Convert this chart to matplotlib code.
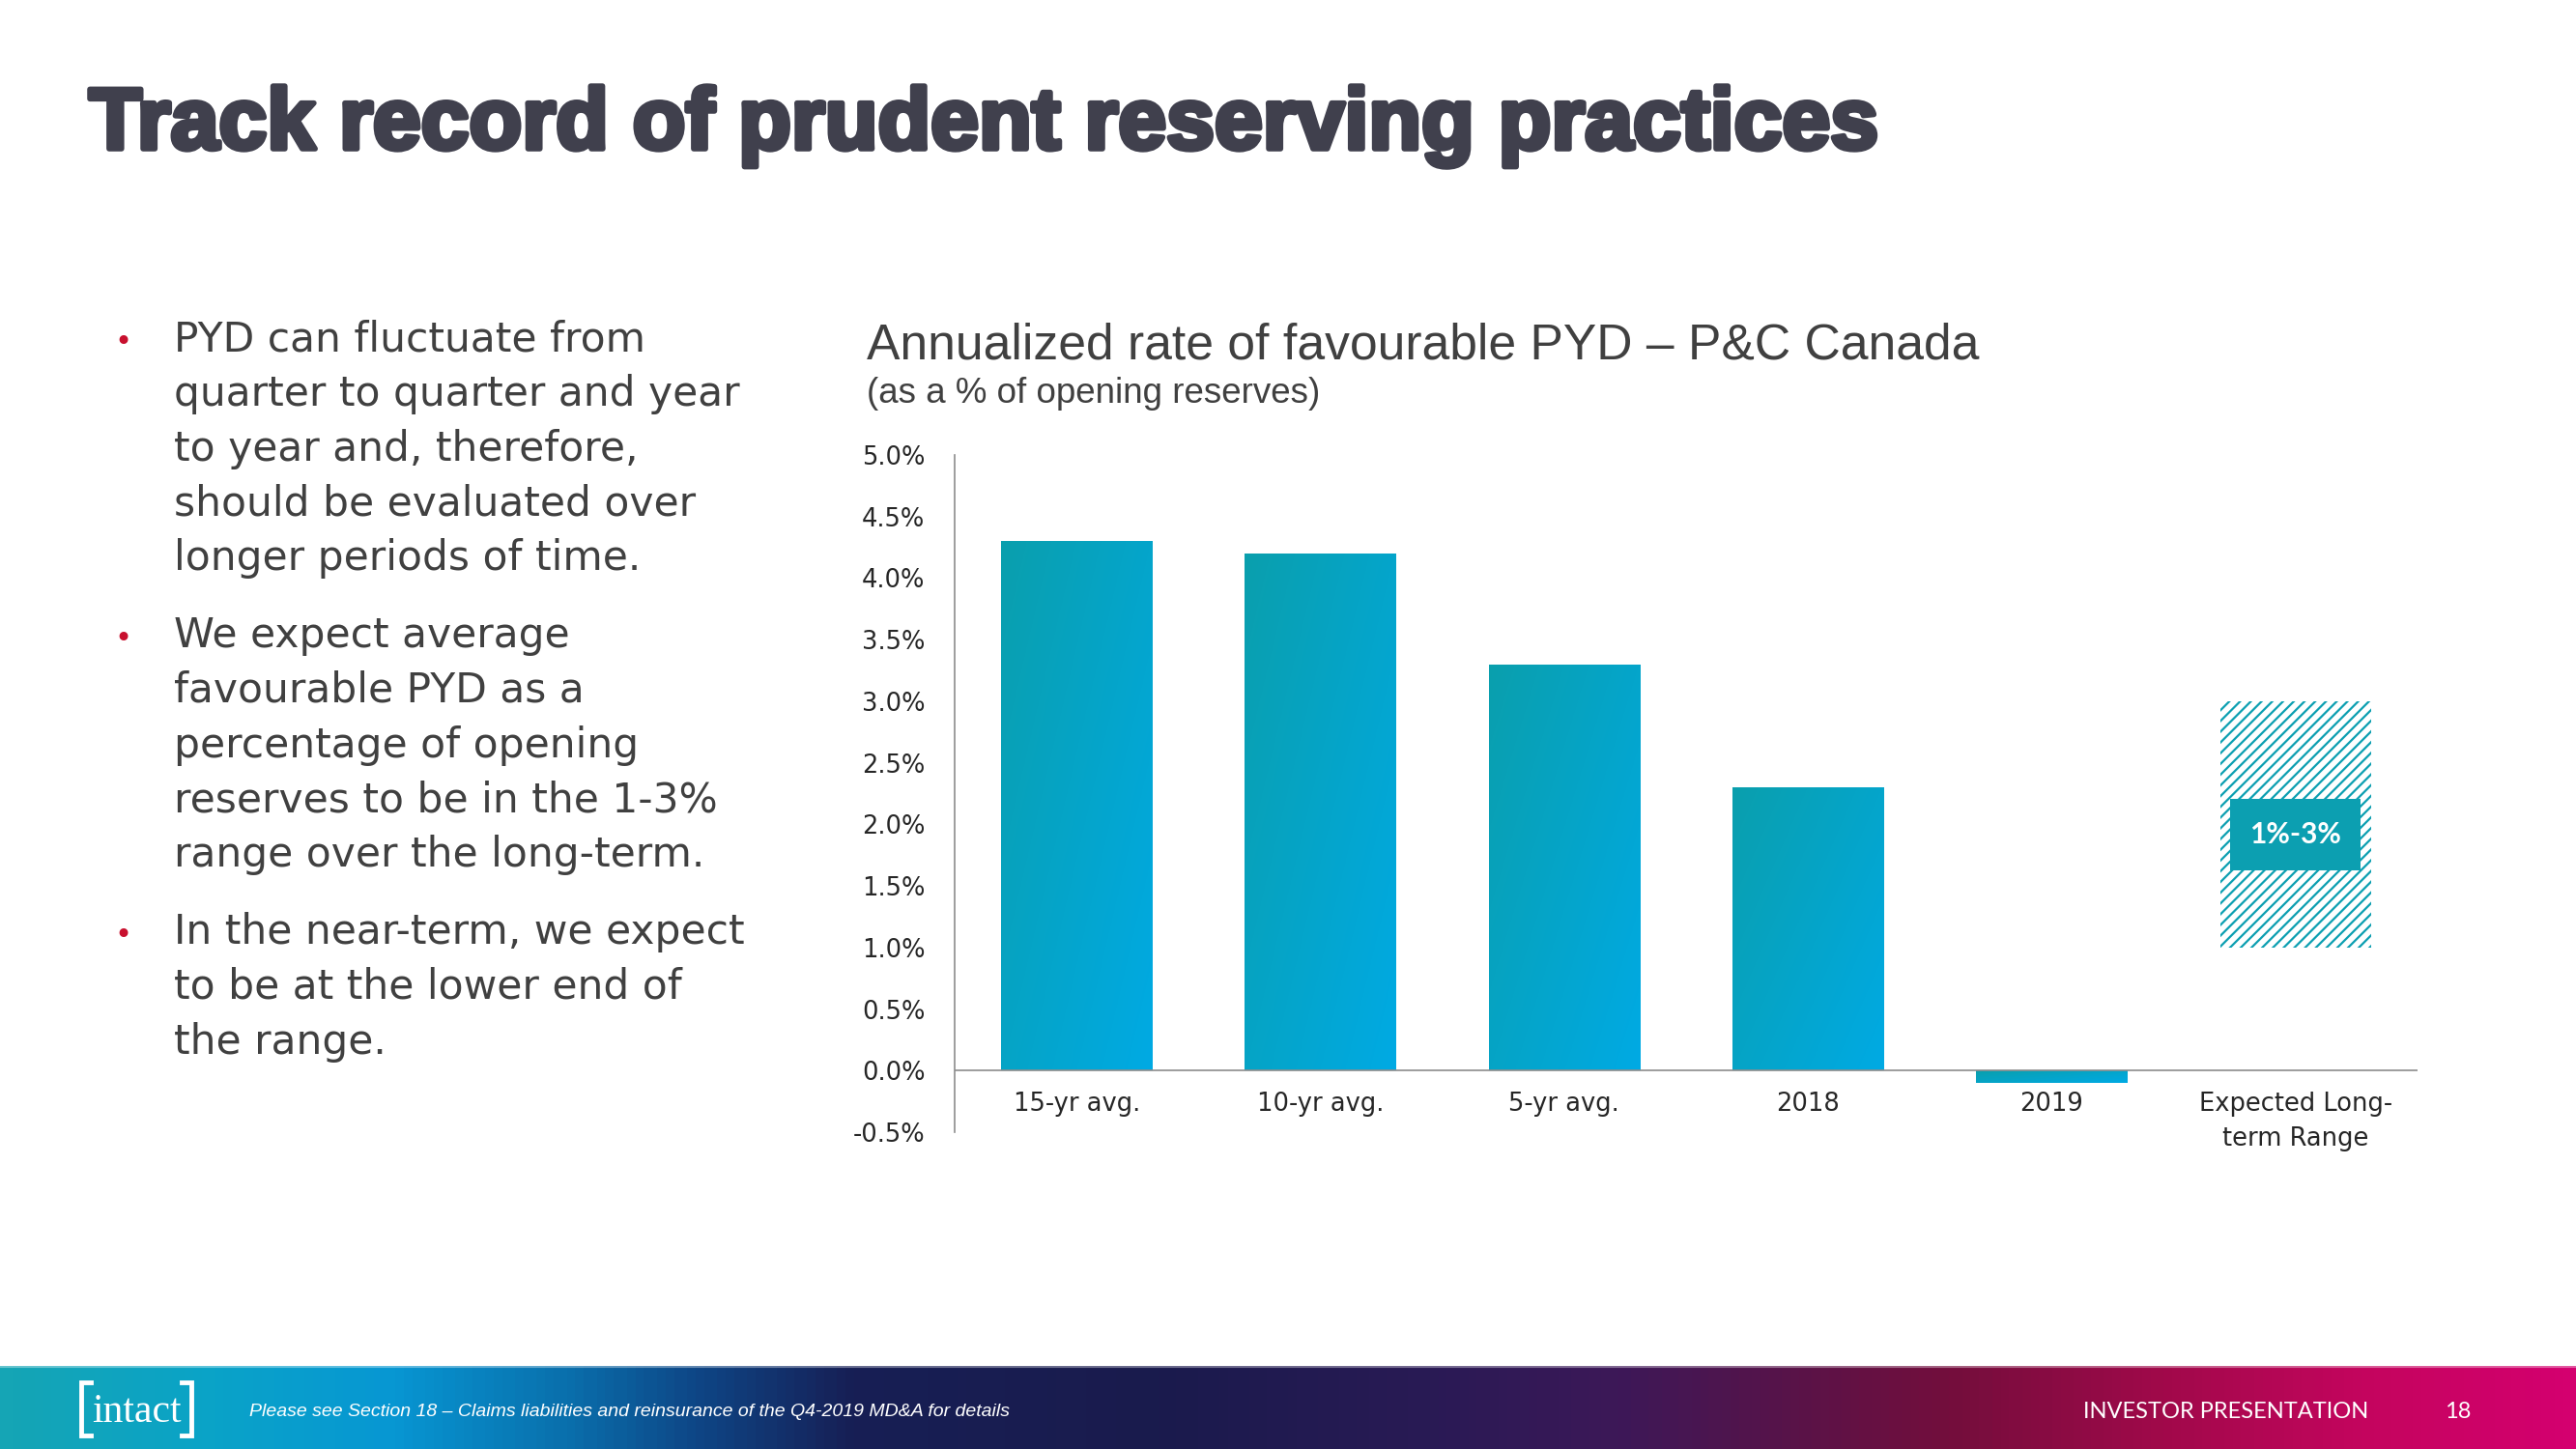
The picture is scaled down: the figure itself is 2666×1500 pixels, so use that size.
import numpy as np
import matplotlib.pyplot as plt
from matplotlib.colors import LinearSegmentedColormap
from matplotlib.patches import Rectangle
from matplotlib.lines import Line2D
import matplotlib.patheffects as pe

# --- data ---
categories = ['15-yr avg.', '10-yr avg.', '5-yr avg.', '2018', '2019', 'Expected Long-\nterm Range']
pyd_rate = [4.3, 4.2, 3.3, 2.3, -0.1]
range_low = 1.0
range_high = 3.0
range_label = '1%-3%'
yticks = [-0.5, 0.0, 0.5, 1.0, 1.5, 2.0, 2.5, 3.0, 3.5, 4.0, 4.5, 5.0]

bullets = [
    ['PYD can fluctuate from', 'quarter to quarter and year', 'to year and, therefore,',
     'should be evaluated over', 'longer periods of time.'],
    ['We expect average', 'favourable PYD as a', 'percentage of opening',
     'reserves to be in the 1-3%', 'range over the long-term.'],
    ['In the near-term, we expect', 'to be at the lower end of', 'the range.'],
]

title = 'Track record of prudent reserving practices'
chart_title = 'Annualized rate of favourable PYD \u2013 P&C Canada'
chart_sub = '(as a % of opening reserves)'
footnote = 'Please see Section 18 \u2013 Claims liabilities and reinsurance of the Q4-2019 MD&A for details'

TEAL = '#0C9FB1'
GREY_TXT = '#404040'

W, H = 2666, 1500
fig = plt.figure(figsize=(W / 100, H / 100), dpi=100)
fig.patch.set_facecolor('white')
plt.rcParams['hatch.linewidth'] = 1.6
plt.rcParams['hatch.color'] = TEAL


def fx(px):
    return px / W


def fy(py):
    return 1 - py / H


# title
fig.text(fx(92), fy(154), title, fontsize=64.5, fontweight='bold', family='Liberation Sans',
         color='#40404D', va='baseline', ha='left',
         path_effects=[pe.withStroke(linewidth=4, foreground='#40404D')])

# bullets
line = 0
for p, para in enumerate(bullets):
    for i, txt in enumerate(para):
        yb = 363 + line * 56.8 + p * 23
        if i == 0:
            fig.text(fx(118), fy(yb), '\u2022', fontsize=22, color='#C8102E',
                     family='DejaVu Sans', va='baseline')
        fig.text(fx(180), fy(yb), txt, fontsize=30.5, color=GREY_TXT,
                 family='DejaVu Sans', va='baseline')
        line += 1

# chart titles
fig.text(fx(897), fy(371), chart_title, fontsize=37.2, color=GREY_TXT,
         family='Liberation Sans', va='baseline')
fig.text(fx(897), fy(417), chart_sub, fontsize=26.5, color=GREY_TXT,
         family='Liberation Sans', va='baseline')

# --- chart ---
ax = fig.add_axes([fx(988), fy(1172), (2502 - 988) / W, (1172 - 471) / H])
x = np.arange(len(categories))
bw = 0.62

bars = ax.bar(x[:len(pyd_rate)], pyd_rate, width=bw, color='#05A4C8', zorder=2)

cmap = LinearSegmentedColormap.from_list('bar', ['#0A9FAD', '#00AAE4'])
rr, cc = np.mgrid[0:1:200j, 0:1:200j]
grad = 0.55 * cc + 0.45 * rr
for b in bars:
    x0, y0 = b.get_x(), b.get_y()
    w, h = b.get_width(), b.get_height()
    im = ax.imshow(grad, extent=(x0, x0 + w, min(y0, y0 + h), max(y0, y0 + h)),
                   cmap=cmap, aspect='auto', origin='upper', zorder=3,
                   interpolation='bilinear')
    im.set_clip_path(b)

# expected range bar, hatched
ax.bar(x[-1], range_high - range_low, bottom=range_low, width=bw, facecolor='white',
       edgecolor=TEAL, hatch='///', linewidth=0, zorder=2)
mid = 1.92
ax.add_patch(Rectangle((x[-1] - 0.267, mid - 0.29), 0.534, 0.58, facecolor=TEAL,
                       edgecolor='none', zorder=4))
ax.text(x[-1], mid, range_label, ha='center', va='center', color='white',
        fontsize=21.5, fontweight='bold', family='Lato', zorder=5)

ax.axhline(0, color='#8C8C8C', lw=1.2, zorder=4)
ax.set_xlim(-0.5, 5.5)
ax.set_ylim(-0.5, 5.0)
for s in ['top', 'right', 'bottom']:
    ax.spines[s].set_visible(False)
ax.spines['left'].set_color('#8C8C8C')
ax.spines['left'].set_linewidth(1.2)

ax.set_yticks(yticks)
ax.set_yticklabels([f'{v:.1f}%' for v in yticks], family='DejaVu Sans')
ax.set_xticks(x)
ax.set_xticklabels(categories, family='DejaVu Sans')
ax.tick_params(axis='y', length=0, pad=22, labelsize=18.5, labelcolor='#262626')
ax.tick_params(axis='x', length=0, pad=-30, labelsize=18.5, labelcolor='#262626')
for t in ax.get_xticklabels():
    t.set_linespacing(1.5)
ax.set_facecolor('none')

# --- footer band ---
fax = fig.add_axes([0, 0, 1, 86 / H])
fax.axis('off')
stops = [(0.0, '#15A5B5'), (0.08, '#0AA3C8'), (0.15, '#0797D3'), (0.22, '#0A6EAB'),
         (0.27, '#0E4585'), (0.33, '#171F55'), (0.45, '#1A1B4D'), (0.56, '#2A1A55'),
         (0.63, '#3D1858'), (0.70, '#5A1348'), (0.76, '#740E3C'), (0.84, '#A0094A'),
         (0.92, '#C4055E'), (1.0, '#D4006F')]
fcmap = LinearSegmentedColormap.from_list('footer', stops)
fax.imshow(np.linspace(0, 1, 600)[None, :], cmap=fcmap, aspect='auto',
           extent=(0, 1, 0, 1))
fax.set_xlim(0, 1)
fax.set_ylim(0, 1)
fig.add_artist(Line2D([0, 1], [fy(1415), fy(1415)], color='white', alpha=0.35, lw=1.5,
                      transform=fig.transFigure))

# logo
lw_b = 3.5
for xs, ys in [([94, 84, 84, 94], [1431, 1431, 1486, 1486]),
               ([188, 198, 198, 188], [1431, 1431, 1486, 1486])]:
    fig.add_artist(Line2D([fx(v) for v in xs], [fy(v) for v in ys], color='white',
                          lw=lw_b, solid_joinstyle='miter', transform=fig.transFigure))
fig.text(fx(141), fy(1472), 'intact', color='white', fontsize=30, family='Liberation Serif',
         ha='center', va='baseline')

fig.text(fx(258), fy(1466), footnote, color='white', fontsize=14, style='italic',
         family='Liberation Sans', va='baseline')
fig.text(fx(2156), fy(1468), 'INVESTOR PRESENTATION', color='white', fontsize=17,
         family='Lato', va='baseline')
fig.text(fx(2530), fy(1468), '18', color='white', fontsize=17, family='Lato', va='baseline')

fig.savefig('out.png', dpi=100)
